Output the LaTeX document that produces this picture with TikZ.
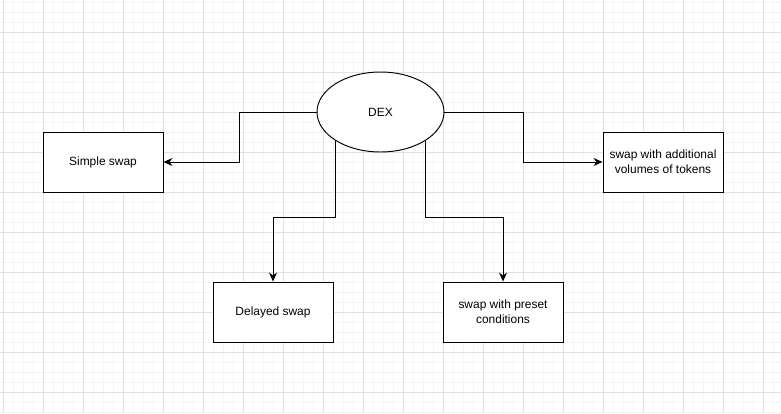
\documentclass[tikz,border=0pt]{standalone}
\usepackage{fontspec}
\setmainfont{Liberation Sans}
\usetikzlibrary{shapes.geometric,arrows.meta,positioning,calc}
\definecolor{gridminor}{HTML}{F5F5F5}
\definecolor{gridmajor}{HTML}{E2E2E2}

\begin{document}
\begin{tikzpicture}[x=0.02cm, y=-0.02cm,
  swapbox/.style={rectangle, draw, line width=0.55pt, fill=white, minimum width=2.4cm, minimum height=1.2cm, align=center, font=\fontsize{6.8}{8.4}\selectfont, inner sep=1pt},
  hub/.style={ellipse, draw, line width=0.55pt, fill=white, minimum width=2.54cm, minimum height=1.6cm, font=\fontsize{6.8}{8.4}\selectfont},
  arr/.style={-{Stealth[length=1.8mm, width=1.6mm]}, line width=0.55pt}
]
  \useasboundingbox (0,0) rectangle (781,413);
  \fill[white] (0,0) rectangle (781,413);
  % background grid
  \foreach \x in {3,13,...,773} \draw[gridminor, line width=0.5pt] (\x,0) -- (\x,413);
  \foreach \y in {2,12,...,412} \draw[gridminor, line width=0.5pt] (0,\y) -- (781,\y);
  \foreach \x in {3,43,...,763} \draw[gridmajor, line width=0.5pt] (\x,0) -- (\x,413);
  \foreach \y in {32,72,...,392} \draw[gridmajor, line width=0.5pt] (0,\y) -- (781,\y);

  \node[hub] (dex) at (380.5,112) {DEX};
  \node[swapbox] (simple) at (103,162) {Simple swap};
  \node[swapbox] (addvol) at (663,162) {swap with additional\\volumes of tokens};
  \node[swapbox] (delayed) at (273,312) {Delayed swap};
  \node[swapbox] (preset) at (503,312) {swap with preset\\conditions};

  \draw[arr] (dex.west) -- ++(-77,0) |- (simple.east);
  \draw[arr] (dex.east) -- ++(79,0) |- (addvol.west);
  \draw[arr] (dex.south west) -- ++(0,77) -| (delayed.north);
  \draw[arr] (dex.south east) -- ++(0,77) -| (preset.north);
\end{tikzpicture}
\end{document}
